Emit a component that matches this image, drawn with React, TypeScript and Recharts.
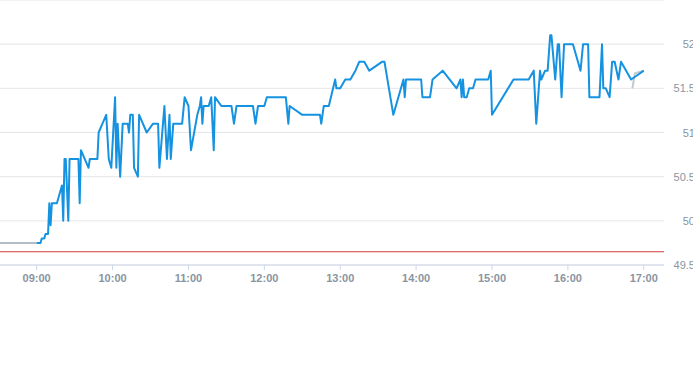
import { CartesianGrid, Line, LineChart, ReferenceLine, XAxis, YAxis } from "recharts";

// intraday session (blue)
const sessionTimes = [
  "09:00", "09:03", "09:04", "09:06", "09:07", "09:09", "09:10", "09:11", "09:12", "09:16",
  "09:18", "09:20", "09:21", "09:22", "09:23", "09:25", "09:26", "09:33", "09:34", "09:35",
  "09:41", "09:42", "09:48", "09:49", "09:52", "09:55", "09:57", "09:59", "10:02", "10:03",
  "10:04", "10:06", "10:08", "10:12", "10:13", "10:14", "10:16", "10:17", "10:20", "10:21",
  "10:27", "10:32", "10:36", "10:37", "10:41", "10:43", "10:45", "10:46", "10:48", "10:55",
  "10:57", "11:00", "11:02", "11:07", "11:09", "11:10", "11:11", "11:12", "11:16", "11:18",
  "11:20", "11:21", "11:26", "11:34", "11:36", "11:38", "11:51", "11:53", "11:55", "12:00",
  "12:02", "12:17", "12:19", "12:20", "12:30", "12:44", "12:45", "12:47", "12:51", "12:56",
  "12:57", "13:00", "13:04", "13:08", "13:12", "13:15", "13:19", "13:23", "13:33", "13:35",
  "13:42", "13:50", "13:51", "13:52", "14:04", "14:05", "14:11", "14:13", "14:21", "14:32",
  "14:35", "14:36", "14:37", "14:38", "14:40", "14:42", "14:45", "14:47", "14:57", "14:59",
  "15:00", "15:17", "15:29", "15:33", "15:35", "15:38", "15:39", "15:42", "15:44", "15:46",
  "15:47", "15:50", "15:52", "15:53", "15:55", "15:57", "16:04", "16:10", "16:12", "16:16",
  "16:17", "16:25", "16:27", "16:28", "16:30", "16:33", "16:35", "16:37", "16:40", "16:42",
  "16:50", "16:56", "17:00",
];
const sessionPrices = [
  49.75, 49.75, 49.8, 49.8, 49.85, 49.85, 50.2, 49.95, 50.2, 50.2,
  50.3, 50.4, 50.0, 50.7, 50.7, 50.0, 50.7, 50.7, 50.2, 50.8,
  50.6, 50.7, 50.7, 51.0, 51.1, 51.2, 50.7, 50.6, 51.4, 50.6,
  51.1, 50.5, 51.1, 51.1, 51.0, 51.2, 51.2, 50.6, 50.5, 51.2,
  51.0, 51.1, 51.1, 50.6, 51.3, 50.7, 51.2, 50.7, 51.1, 51.1,
  51.4, 51.3, 50.8, 51.2, 51.3, 51.4, 51.1, 51.3, 51.3, 51.4,
  50.8, 51.4, 51.3, 51.3, 51.1, 51.3, 51.3, 51.1, 51.3, 51.3,
  51.4, 51.4, 51.1, 51.3, 51.2, 51.2, 51.1, 51.3, 51.3, 51.6,
  51.5, 51.5, 51.6, 51.6, 51.7, 51.8, 51.8, 51.7, 51.8, 51.8,
  51.2, 51.6, 51.4, 51.6, 51.6, 51.4, 51.4, 51.6, 51.7, 51.5,
  51.6, 51.4, 51.6, 51.4, 51.4, 51.5, 51.5, 51.6, 51.6, 51.7,
  51.2, 51.6, 51.6, 51.7, 51.1, 51.7, 51.6, 51.7, 51.7, 52.1,
  52.1, 51.6, 52.0, 52.0, 51.4, 52.0, 52.0, 51.7, 52.0, 52.0,
  51.4, 51.4, 52.0, 51.5, 51.5, 51.4, 51.8, 51.8, 51.6, 51.8,
  51.6, 51.66, 51.7,
];

// pre-open and after-close (grey)
const preTimes = ["08:30", "09:00"];
const prePrices = [49.75, 49.75];
const postTimes = ["16:51", "16:53", "17:00"];
const postPrices = [51.5, 51.67, 51.7];

const prevClose = 49.65;
const hourTicks = ["09:00", "10:00", "11:00", "12:00", "13:00", "14:00", "15:00", "16:00", "17:00"];
const priceTicks = [49.5, 50, 50.5, 51, 51.5, 52];

const toMin = (s: string) => {
  const [h, m] = s.split(":").map(Number);
  return h * 60 + m;
};
const fmt = (v: number) => {
  const h = Math.floor(v / 60);
  const m = Math.round(v % 60);
  return `${String(h).padStart(2, "0")}:${String(m).padStart(2, "0")}`;
};
const series = (times: string[], prices: number[]) =>
  times.map((t, i) => ({ t: toMin(t), price: prices[i] }));

const session = series(sessionTimes, sessionPrices);
const pre = series(preTimes, prePrices);
const post = series(postTimes, postPrices);

const LABEL = "#8a95a2";
const FONT = "'Liberation Sans', Arial, sans-serif";

function PriceTick({ x, y, payload }: any) {
  return (
    <text x={x + 31} y={y} dy={4} textAnchor="end" fill={LABEL} fontSize={11} fontFamily={FONT}>
      {payload.value}
    </text>
  );
}

export default function App() {
  return (
    <div style={{ width: 693, height: 365, overflow: "hidden", position: "absolute", left: 0, top: 0 }}>
      <style>{`body{margin:0}`}</style>
      <LineChart width={700} height={365} margin={{ top: 0, right: 0, bottom: 0, left: 0 }}>
        <CartesianGrid stroke="#e6e6e6" vertical={false} />
        <XAxis
          type="number"
          dataKey="t"
          domain={[511, 1036]}
          allowDataOverflow
          ticks={hourTicks.map(toMin)}
          tickFormatter={fmt}
          height={100}
          stroke="#ccd6eb"
          tickSize={5}
          tickMargin={4}
          tick={{ fill: LABEL, fontSize: 11, fontFamily: FONT, fontWeight: "bold" }}
        />
        <YAxis
          orientation="right"
          domain={[49.5, 52.5]}
          ticks={priceTicks}
          width={36}
          axisLine={false}
          tickLine={false}
          tickSize={0}
          tickMargin={0}
          tick={<PriceTick />}
        />
        <ReferenceLine y={prevClose} stroke="#d23c3c" strokeWidth={1} />
        <Line data={pre} dataKey="price" stroke="#b3bdc8" strokeWidth={2} dot={false} isAnimationActive={false} />
        <Line data={post} dataKey="price" stroke="#c2c9d1" strokeWidth={2} dot={false} isAnimationActive={false} />
        <Line
          data={session}
          dataKey="price"
          stroke="#1592e0"
          strokeWidth={2}
          strokeLinejoin="round"
          dot={false}
          isAnimationActive={false}
        />
      </LineChart>
    </div>
  );
}
